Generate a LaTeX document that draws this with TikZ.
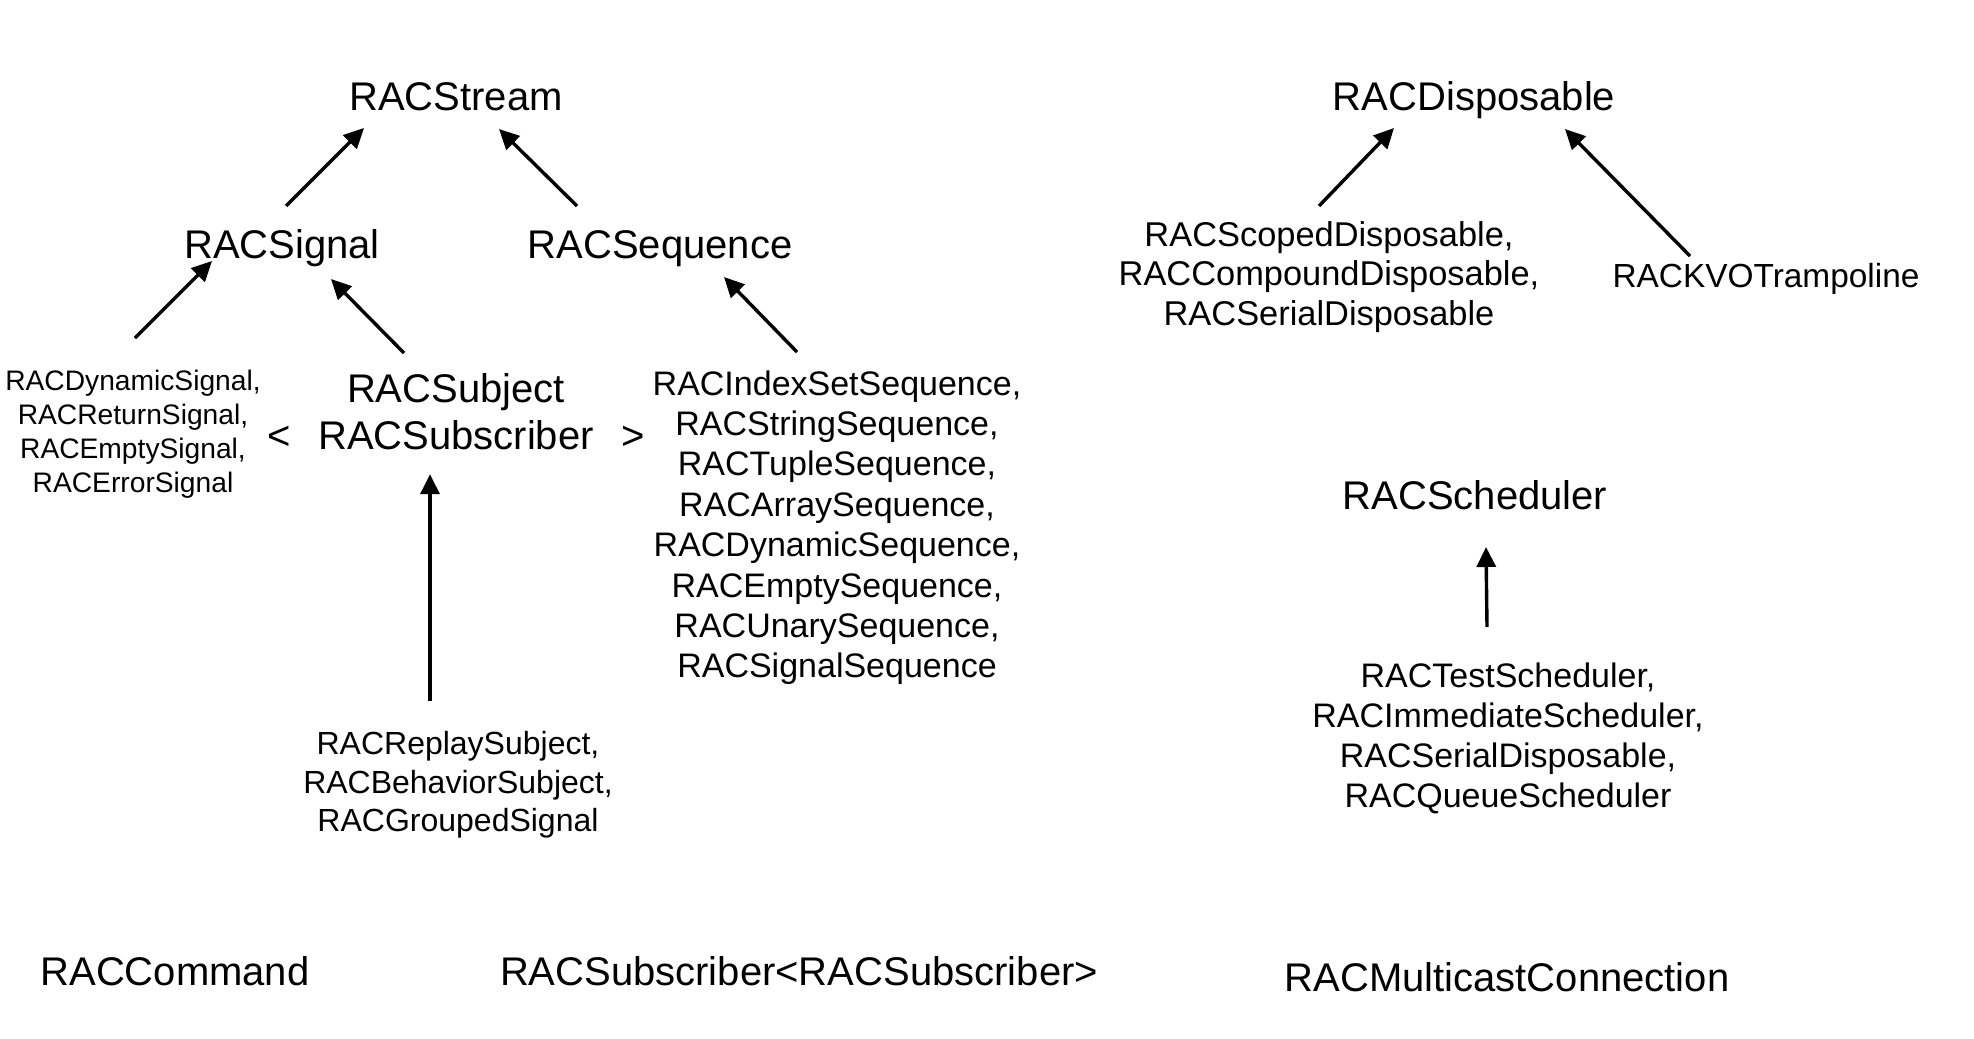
\documentclass[tikz,border=0pt]{standalone}
\usepackage{fontspec}
\setmainfont{Liberation Sans}
\usetikzlibrary{arrows.meta}
\tikzset{
  cls/.style={inner sep=0pt,anchor=base,font=\fontsize{20}{24}\selectfont},
  grp/.style={inner sep=0pt,anchor=north,align=center},
  inh/.style={-{Triangle[length=10pt,width=9.5pt]},line width=1.7pt}
}
\begin{document}
\begin{tikzpicture}[x=0.5pt,y=-0.5pt]
\useasboundingbox (0,0) rectangle (1974,1038);
\node[cls] (stream) at (456,111) {RACStream};
\node[cls] (signal) at (282,258) {RACSignal};
\node[cls] (sequence) at (660,258) {RACSequence};
\node[grp,font=\fontsize{14.1}{17}\selectfont] (signals) at (133,370) {RACDynamicSignal,\\RACReturnSignal,\\RACEmptySignal,\\RACErrorSignal};
\node[grp,font=\fontsize{20}{23.5}\selectfont] (subject) at (456,373) {RACSubject\\RACSubscriber};
\node[cls] (lt) at (279,449) {<};
\node[cls] (gt) at (633,449) {>};
\node[grp,font=\fontsize{17}{20.2}\selectfont] (sequences) at (837,370) {RACIndexSetSequence,\\RACStringSequence,\\RACTupleSequence,\\RACArraySequence,\\RACDynamicSequence,\\RACEmptySequence,\\RACUnarySequence,\\RACSignalSequence};
\node[grp,font=\fontsize{16}{19.25}\selectfont] (subjects) at (458,731) {RACReplaySubject,\\RACBehaviorSubject,\\RACGroupedSignal};
\node[cls] (disposable) at (1474,111) {RACDisposable};
\node[grp,font=\fontsize{17.2}{19.75}\selectfont] (disposables) at (1329,221) {RACScopedDisposable,\\RACCompoundDisposable,\\RACSerialDisposable};
\node[cls,font=\fontsize{16.7}{20}\selectfont] (kvo) at (1766,287) {RACKVOTrampoline};
\node[cls] (scheduler) at (1475,509) {RACScheduler};
\node[grp,font=\fontsize{17}{20.15}\selectfont] (schedulers) at (1508,662) {RACTestScheduler,\\RACImmediateScheduler,\\RACSerialDisposable,\\RACQueueScheduler};
\node[cls] (command) at (175,985) {RACCommand};
\node[cls] (subsub) at (799,985) {RACSubscriber<RACSubscriber>};
\node[cls] (multicast) at (1507,991) {RACMulticastConnection};
\draw[inh] ([shift={(4,-52)}]signal.base) -- ([shift={(-92,17)}]stream.base);
\draw[inh] ([shift={(-83,-52)}]sequence.base) -- ([shift={(43,18)}]stream.base);
\draw[inh] ([shift={(2,-32)}]signals.north) -- ([shift={(-70,3)}]signal.base);
\draw[inh] ([shift={(-52,-20)}]subject.north) -- ([shift={(49,21)}]signal.base);
\draw[inh] ([shift={(-40,-18)}]sequences.north) -- ([shift={(64,19)}]sequence.base);
\draw[inh] ([shift={(-28,-30)}]subjects.north) -- ([shift={(-26,24)}]subject.south);
\draw[inh] ([shift={(-10,-15)}]disposables.north) -- ([shift={(-80,17)}]disposable.base);
\draw[inh] ([shift={(-76,-31)}]kvo.base) -- ([shift={(91,18)}]disposable.base);
\draw[inh] ([shift={(-21,-35)}]schedulers.north) -- ([shift={(11,38)}]scheduler.base);
\end{tikzpicture}
\end{document}
